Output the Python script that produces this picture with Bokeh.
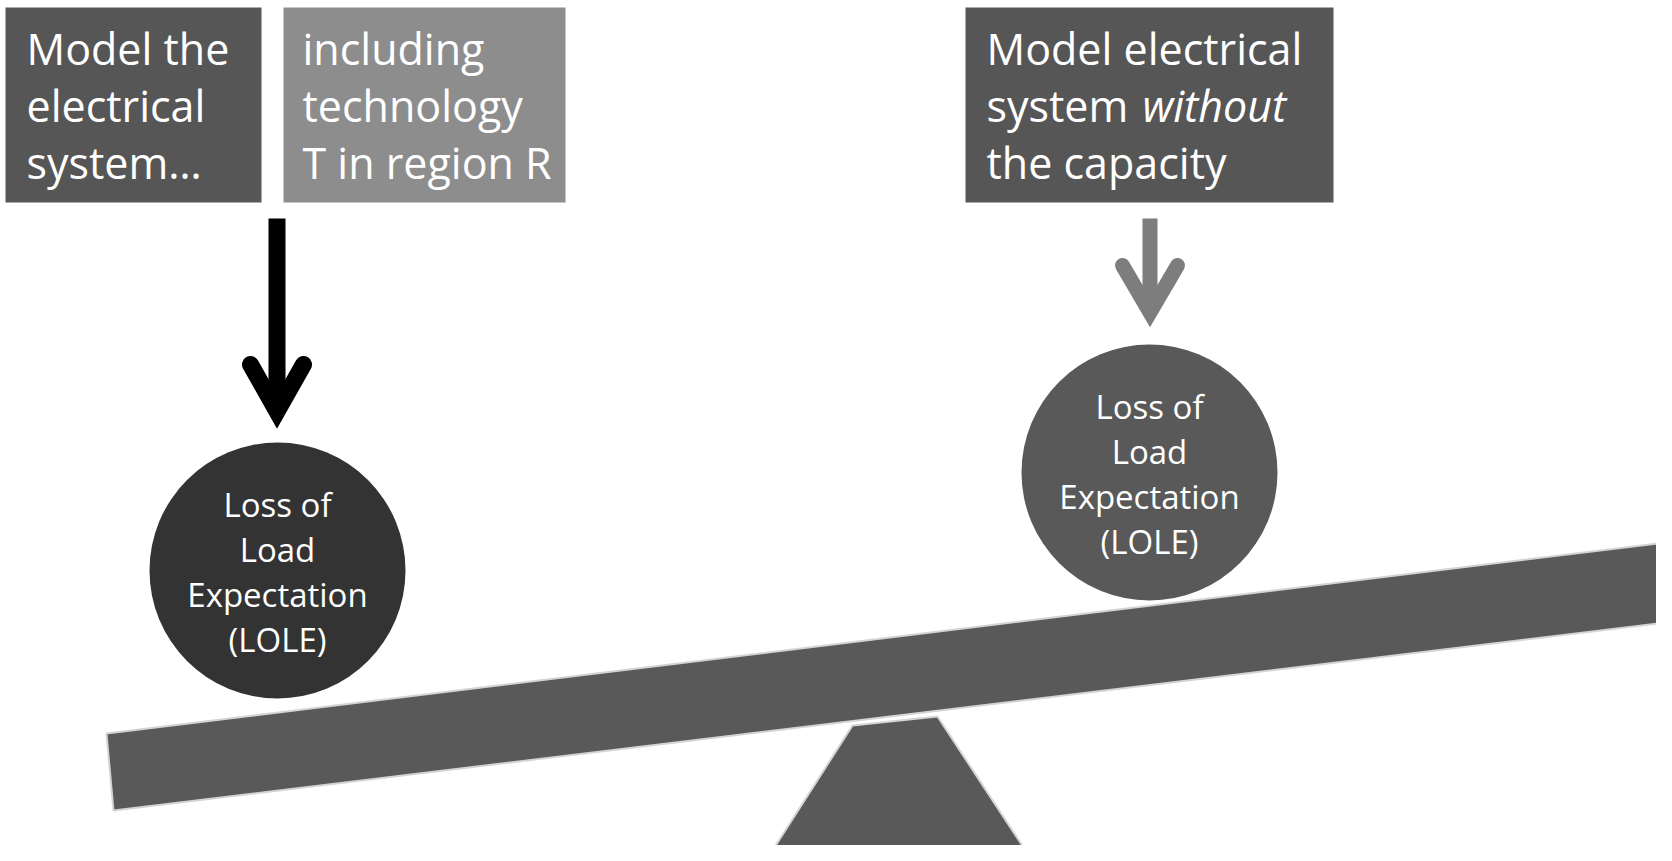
from bokeh.plotting import figure
from bokeh.models import Range1d
from bokeh.embed import file_html
from bokeh.resources import INLINE
from bokeh.core.properties import value

# ---------------- content ----------------
box1_lines = ["Model the", "electrical", "system…"]
box2_lines = ["including", "technology", "T in region R"]
box3_lines = ["Model electrical", "system", "the capacity"]
box3_italic = ["without"]
circle_lines = ["Loss of", "Load", "Expectation", "(LOLE)"]

# ---------------- geometry (reference pixel coordinates) ----------------
W, H = 1656, 845
FONT = value("Open Sans")

p = figure(width=W, height=H, x_range=Range1d(0, W), y_range=Range1d(H, 0),
           output_backend="svg", toolbar_location=None, min_border=0,
           x_axis_type=None, y_axis_type=None)
p.grid.visible = False
p.outline_line_color = None
p.background_fill_color = "white"
p.border_fill_color = "white"

# text boxes
box_left = [5, 283, 965]
box_right = [261, 565, 1333]
box_colors = ["#565656", "#8d8d8d", "#565656"]
p.quad(left=box_left, right=box_right, top=[7, 7, 7], bottom=[202, 202, 202],
       fill_color=box_colors, line_color=None)

line_mid = [48, 105, 162]
common = dict(text_font=FONT, text_font_size="43px", text_color="white",
              text_baseline="middle", text_align="left")
p.text(x=[26] * 3, y=line_mid, text=box1_lines, **common)
p.text(x=[302] * 3, y=line_mid, text=box2_lines, **common)
p.text(x=[986] * 3, y=line_mid, text=box3_lines, **common)
p.text(x=[1142], y=[line_mid[1]], text=box3_italic, text_font_style="italic", **common)

# beam and fulcrum
p.patch(x=[106, 1657, 1665, 113], y=[733, 543, 622, 810], fill_color="#595959",
        line_color="#d4d4d4", line_width=2)
p.patch(x=[852, 937, 1025, 772], y=[725, 716, 850, 850], fill_color="#595959",
        line_color="#d4d4d4", line_width=2)

# arrows
# left (black)
p.segment(x0=[276.5], y0=[218], x1=[276.5], y1=[408], line_color="black",
          line_width=17, line_cap="butt")
p.line(x=[250, 276.5, 303], y=[364, 411, 364], line_color="black", line_width=17,
       line_join="miter", line_cap="round")
# right (grey)
p.segment(x0=[1149.5], y0=[218], x1=[1149.5], y1=[308], line_color="#7d7d7d",
          line_width=15, line_cap="butt")
p.line(x=[1122, 1149.5, 1177], y=[265, 312, 265], line_color="#7d7d7d", line_width=15,
       line_join="miter", line_cap="round")

# weights (circles)
cx = [277, 1149]
cy = [570, 472]
p.circle(x=cx, y=cy, radius=128, fill_color=["#333333", "#595959"], line_color=None)

offsets = [-66, -21, 24, 69]
for x0, y0 in zip(cx, cy):
    p.text(x=[x0] * 4, y=[y0 + o for o in offsets], text=circle_lines, text_font=FONT,
           text_font_size="33px", text_color="white", text_baseline="middle",
           text_align="center")

open("out.html", "w").write(file_html(p, INLINE))
